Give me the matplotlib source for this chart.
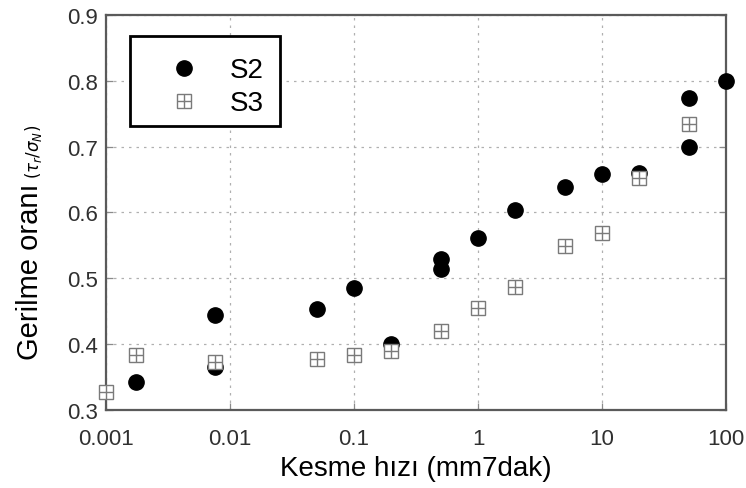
import matplotlib.pyplot as plt
from matplotlib.ticker import FixedLocator, FixedFormatter, NullLocator
from matplotlib.patches import Rectangle

plt.rcParams['font.family'] = ['Liberation Sans', 'DejaVu Sans']
plt.rcParams['mathtext.fontset'] = 'dejavusans'

# kesme hizi (mm/dak) - oran degerleri
s2_hiz = [0.00175, 0.0075, 0.0075, 0.05, 0.1, 0.2, 0.5, 0.5, 1, 2, 5, 10, 20, 50, 50, 100]
s2_oran = [0.342, 0.445, 0.365, 0.454, 0.485, 0.400, 0.530, 0.514, 0.562, 0.604, 0.639, 0.659, 0.660, 0.774, 0.700, 0.800]

s3_hiz = [0.001, 0.00175, 0.0075, 0.05, 0.1, 0.2, 0.5, 1, 2, 5, 10, 20, 50]
s3_oran = [0.327, 0.383, 0.373, 0.377, 0.384, 0.389, 0.420, 0.455, 0.487, 0.549, 0.569, 0.652, 0.734]

x_ticks = [0.001, 0.01, 0.1, 1, 10, 100]
x_tick_labels = ['0.001', '0.01', '0.1', '1', '10', '100']
y_ticks = [0.3, 0.4, 0.5, 0.6, 0.7, 0.8, 0.9]

fig = plt.figure(figsize=(7.46, 4.89), dpi=100)
ax = fig.add_axes([0.1421, 0.1595, 0.8311, 0.8078])

ax.set_xscale('log')
ax.set_xlim(0.001, 100)
ax.set_ylim(0.3, 0.9)

ax.xaxis.set_major_locator(FixedLocator(x_ticks))
ax.xaxis.set_major_formatter(FixedFormatter(x_tick_labels))
ax.xaxis.set_minor_locator(NullLocator())
ax.set_yticks(y_ticks)
ax.set_yticklabels(['%.1f' % v for v in y_ticks])

ax.grid(True, color='#b0b0b0', linestyle=(0, (2, 4)), linewidth=0.9)
ax.set_axisbelow(True)

for sp in ax.spines.values():
    sp.set_color('#5a5a5a')
    sp.set_linewidth(1.6)

ax.tick_params(direction='in', length=5, width=0.9, color='#8a8a8a',
               right=True, top=False, labelsize=16, labelcolor='#303030')
ax.tick_params(axis='x', pad=13)
ax.tick_params(axis='y', pad=6)

# S2 - dolu daireler
ax.plot(s2_hiz, s2_oran, linestyle='none', marker='o', markersize=11,
        color='black', clip_on=False, zorder=3)

# S3 - ici artili kareler
ax.plot(s3_hiz, s3_oran, linestyle='none', marker='s', markersize=10,
        markerfacecolor='white', markeredgecolor='#7a7a7a', markeredgewidth=1.0,
        clip_on=False, zorder=4)
ax.plot(s3_hiz, s3_oran, linestyle='none', marker='+', markersize=10,
        markeredgecolor='#7a7a7a', markeredgewidth=1.0, clip_on=False, zorder=5)

# legend icin ayri handle
h_s2, = ax.plot([], [], linestyle='none', marker='o', markersize=11, color='black')
h_s3a, = ax.plot([], [], linestyle='none', marker='s', markersize=10,
                 markerfacecolor='white', markeredgecolor='#7a7a7a', markeredgewidth=1.0)
h_s3b, = ax.plot([], [], linestyle='none', marker='+', markersize=10,
                 markeredgecolor='#7a7a7a', markeredgewidth=1.0)

leg = ax.legend([h_s2, (h_s3a, h_s3b)], ['S2', 'S3'], loc='center left',
                bbox_to_anchor=(0.0387, 0.818), borderaxespad=0, fontsize=20,
                frameon=False, borderpad=0.5, handlelength=2.9,
                handletextpad=0.2, labelspacing=0.25)
leg.set_zorder(6)

# legend cercevesi
ax.add_patch(Rectangle((0.0387, 0.719), 0.2419, 0.228, transform=ax.transAxes,
                       facecolor='white', edgecolor='black', linewidth=2, zorder=5.5))

ax.set_xlabel('Kesme hızı (mm7dak)', fontsize=20, labelpad=4)

fig.text(0.040, 0.445, 'Gerilme oranı', rotation=90, fontsize=21,
         ha='center', va='center')
fig.text(0.045, 0.69, r'$(\tau_r/\sigma_N)$', rotation=90, fontsize=12,
         ha='center', va='center')

fig.savefig('out.png', dpi=100, facecolor='white')
